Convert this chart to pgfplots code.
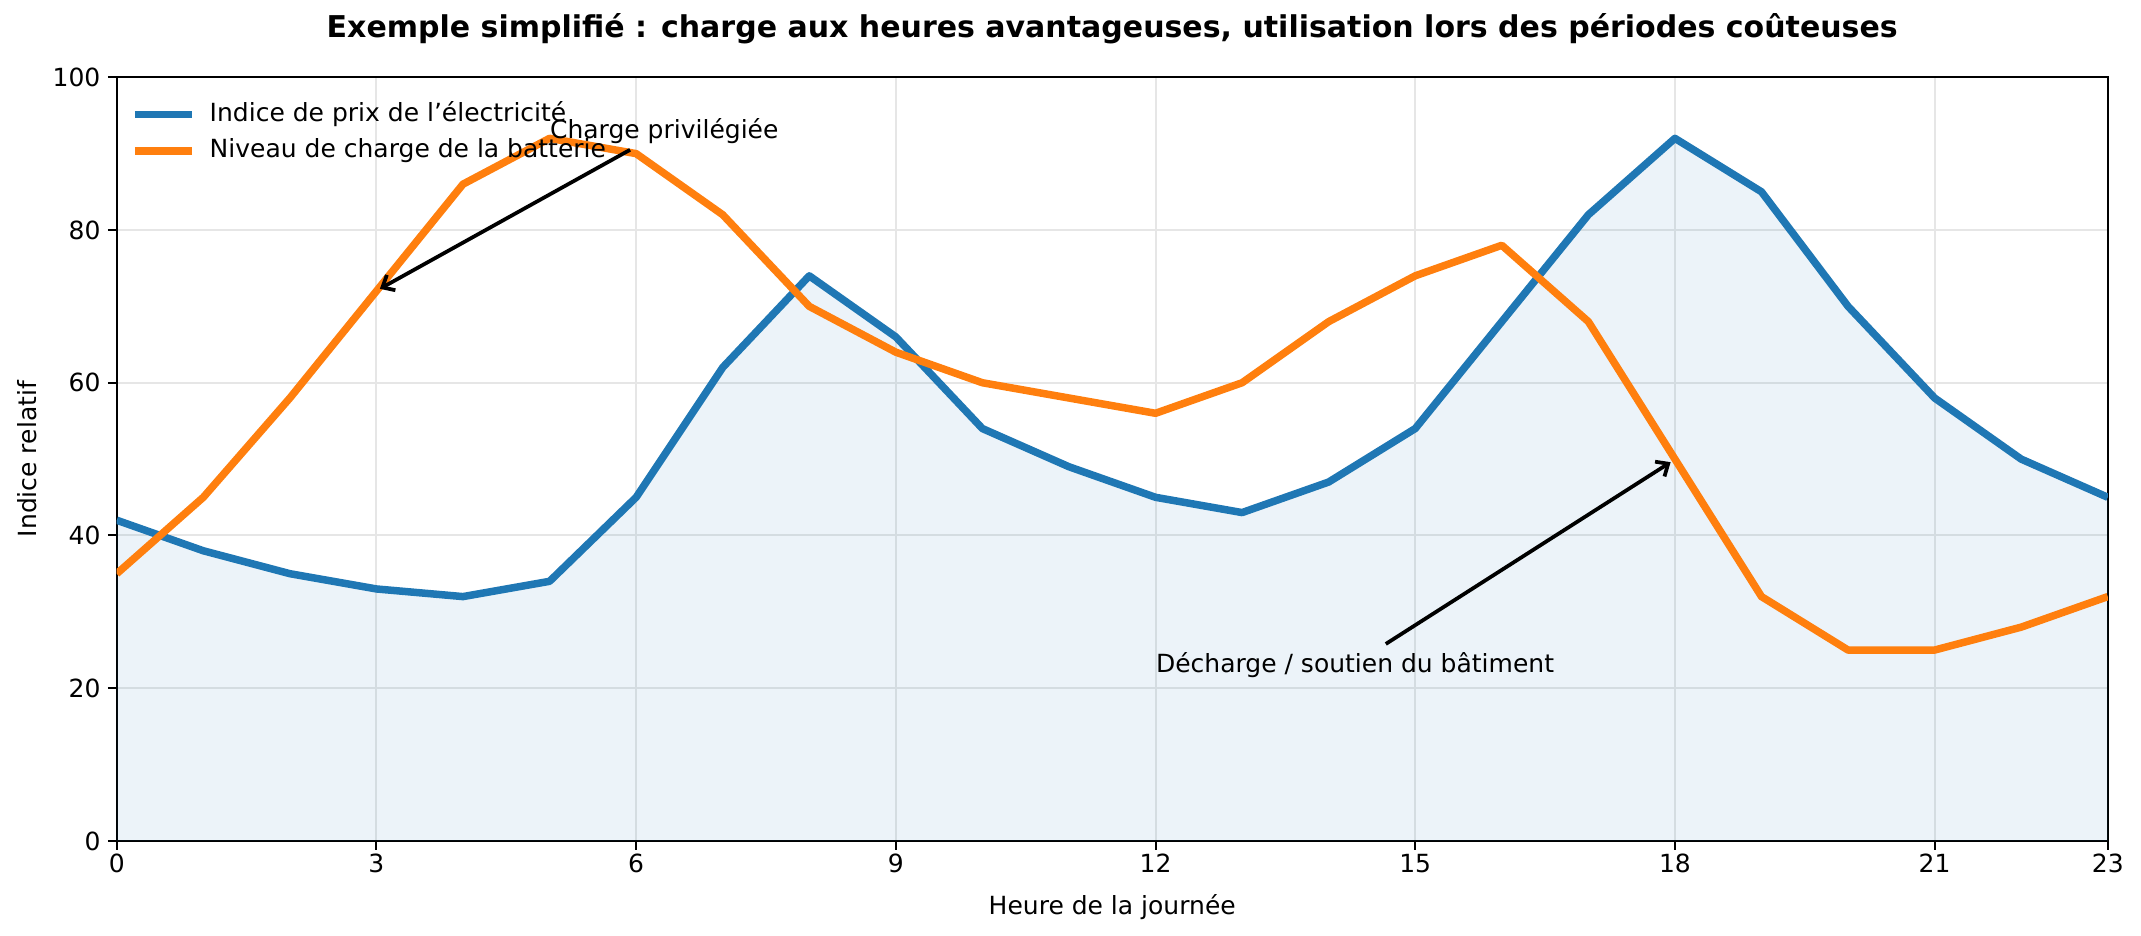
\documentclass[border=0pt]{standalone}
\usepackage{fontspec}
\setmainfont{DejaVu Sans}
\usepackage{pgfplots}
\pgfplotsset{compat=1.18}
\usetikzlibrary{arrows.meta}
\definecolor{mplblue}{HTML}{1F77B4}
\definecolor{mplorange}{HTML}{FF7F0E}
\definecolor{gridgray}{HTML}{E6E6E6}
\begin{document}
\begin{tikzpicture}
\useasboundingbox (-46.7pt,-38pt) rectangle (809.7pt,336.4pt);
\begin{axis}[
  name=main,
  scale only axis,
  width=796.4pt, height=305.5pt,
  at={(0,0)}, anchor=south west,
  xmin=0, xmax=23, ymin=0, ymax=100,
  xtick={0,3,6,9,12,15,18,21,23},
  ytick={0,20,40,60,80,100},
  /pgf/number format/assume math mode=true,
  tick label style={font=\fontsize{10}{12}\selectfont},
  xticklabel style={anchor=base, yshift=-9.2pt},
  yticklabel style={anchor=east, xshift=0.5pt},
  tick align=outside, tick pos=left,
  major tick length=3.5pt,
  every tick/.style={black, line width=0.8pt},
  axis line style={line width=0.8pt},
  grid=major,
  major grid style={gridgray, line width=0.8pt},
  xlabel={Heure de la journée},
  ylabel={Indice relatif},
  label style={font=\fontsize{10}{12}\selectfont},
  xlabel style={at={(axis description cs:0.5,0)}, anchor=base, yshift=-29.5pt},
  ylabel style={at={(axis description cs:-0.0452,0.5)}, anchor=center},
  legend style={draw=none, fill=none, at={(axis description cs:0,1)}, anchor=north west,
    xshift=5.5pt, yshift=-9.85pt, font=\fontsize{10}{12}\selectfont,
    inner sep=0pt, row sep=4.85pt, column sep=5.5pt,
    nodes={inner sep=0pt, text height=7.6pt, text depth=2.2pt, anchor=west}},
  legend cell align=left,
  legend image code/.code={\draw[#1] (0pt,0pt) -- (23pt,0pt);},
]
\addplot[draw=none, fill=mplblue, fill opacity=0.085, forget plot] coordinates {
(0,42) (1,38) (2,35) (3,33) (4,32) (5,34) (6,45) (7,62) (8,74) (9,66) (10,54) (11,49)
(12,45) (13,43) (14,47) (15,54) (16,68) (17,82) (18,92) (19,85) (20,70) (21,58) (22,50) (23,45)
} \closedcycle;
\addplot[mplblue, line width=3pt, line join=round] coordinates {
(0,42) (1,38) (2,35) (3,33) (4,32) (5,34) (6,45) (7,62) (8,74) (9,66) (10,54) (11,49)
(12,45) (13,43) (14,47) (15,54) (16,68) (17,82) (18,92) (19,85) (20,70) (21,58) (22,50) (23,45)
};
\addlegendentry{Indice de prix de l’électricité}
\addplot[mplorange, line width=3pt, line join=round] coordinates {
(0,35) (1,45) (2,58) (3,72) (4,86) (5,92) (6,90) (7,82) (8,70) (9,64) (10,60) (11,58)
(12,56) (13,60) (14,68) (15,74) (16,78) (17,68) (18,50) (19,32) (20,25) (21,25) (22,28) (23,32)
};
\addlegendentry{Niveau de charge de la batterie}
\draw[line width=1.5pt, -{Straight Barb[length=4pt,width=7pt]}] (axis cs:5.93,90.5) -- (axis cs:3.04,72.3);
\node[anchor=base west, inner sep=0pt, font=\fontsize{10}{12}\selectfont] at (axis cs:5,92) {Charge privilégiée};
\draw[line width=1.5pt, -{Straight Barb[length=4pt,width=7pt]}] (axis cs:14.66,25.8) -- (axis cs:17.95,49.6);
\node[anchor=base west, inner sep=0pt, font=\fontsize{10}{12}\selectfont] at (axis cs:12,22) {Décharge / soutien du bâtiment};
\end{axis}
\node[anchor=base, inner sep=0pt, font=\fontsize{12}{14}\selectfont\bfseries] at ([yshift=15.84pt]main.north) {Exemple simplifié : charge aux heures avantageuses, utilisation lors des périodes coûteuses};
\end{tikzpicture}
\end{document}
